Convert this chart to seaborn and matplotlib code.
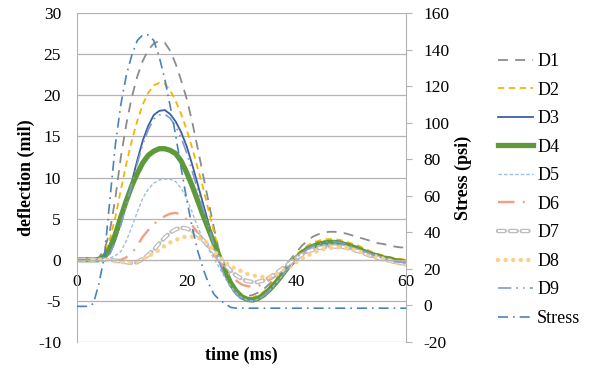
import matplotlib
matplotlib.use("Agg")
import matplotlib.pyplot as plt
import matplotlib.patheffects as pe
import seaborn as sns

# time axis (ms), sensor deflections (mil) and load stress (psi), read every 1 ms
time_ms = list(range(0, 61))

d1 = [0, 0, 0, 0, 0.3, 1.2, 3.5, 7.5, 12.5, 16.5,
      19.8, 22.3, 24.2, 25.5, 26.3, 26.6, 26.4, 25.4, 23.8, 21.8,
      19.6, 16.8, 13.6, 10.3, 7.0, 3.8, 0.8, -1.3, -2.9, -3.8,
      -4.2, -4.4, -4.3, -4.0, -3.6, -3.0, -2.3, -1.5, -0.7, 0.1,
      0.9, 1.7, 2.3, 2.8, 3.1, 3.3, 3.4, 3.4, 3.3, 3.2,
      3.0, 2.8, 2.6, 2.4, 2.2, 2.0, 1.9, 1.7, 1.6, 1.5, 1.5]
d2 = [0, 0, 0, 0, 0.1, 0.8, 2.5, 5.2, 8.5, 11.7,
      14.5, 16.9, 18.9, 20.3, 21.2, 21.5, 21.4, 20.6, 19.3, 17.7,
      15.8, 13.6, 11.2, 8.7, 6.0, 3.3, 0.8, -1.2, -2.8, -3.8,
      -4.4, -4.6, -4.6, -4.3, -3.9, -3.3, -2.6, -1.8, -0.9, -0.1,
      0.6, 1.2, 1.7, 2.1, 2.3, 2.5, 2.5, 2.5, 2.4, 2.2,
      2.0, 1.8, 1.5, 1.2, 0.9, 0.7, 0.5, 0.3, 0.2, 0.1, 0.0]
d3 = [0, 0, 0, 0, 0, 0.2, 0.8, 2.4, 4.5, 7.0,
      9.5, 12.1, 14.5, 16.3, 17.6, 18.1, 18.2, 17.7, 16.8, 15.5,
      13.8, 11.6, 9.2, 6.8, 4.4, 2.1, 0.0, -1.8, -3.2, -4.1,
      -4.6, -4.9, -4.9, -4.7, -4.3, -3.7, -3.0, -2.2, -1.3, -0.5,
      0.3, 0.9, 1.4, 1.8, 2.0, 2.2, 2.3, 2.3, 2.2, 2.0,
      1.8, 1.5, 1.2, 1.0, 0.7, 0.4, 0.2, 0.1, -0.1, -0.2, -0.3]
d4 = [0, 0, 0, 0, 0, 0.4, 1.4, 3.1, 5.2, 7.2,
      9.0, 10.5, 11.8, 12.7, 13.2, 13.5, 13.5, 13.3, 12.9, 12.0,
      10.6, 9.0, 7.2, 5.4, 3.7, 2.0, 0.3, -1.3, -2.8, -3.8,
      -4.5, -4.8, -4.9, -4.7, -4.3, -3.7, -3.0, -2.2, -1.3, -0.5,
      0.2, 0.8, 1.3, 1.6, 1.9, 2.0, 2.1, 2.1, 2.0, 1.8,
      1.6, 1.4, 1.1, 0.8, 0.6, 0.4, 0.2, 0.1, -0.1, -0.2, -0.3]
d5 = [0, 0, 0, 0, 0, 0, 0.2, 0.5, 1.0, 2.3,
      4.0, 5.8, 7.5, 8.6, 9.3, 9.7, 9.8, 9.8, 9.5, 8.7,
      7.4, 5.8, 4.0, 2.5, 1.3, 0.1, -1.0, -2.2, -3.2, -4.0,
      -4.6, -4.9, -5.0, -4.8, -4.4, -3.8, -3.1, -2.3, -1.5, -0.7,
      0.0, 0.6, 1.1, 1.5, 1.7, 1.8, 1.9, 1.9, 1.8, 1.7,
      1.5, 1.3, 1.0, 0.7, 0.5, 0.3, 0.1, 0.0, -0.2, -0.3, -0.4]
d6 = [0, 0, 0, 0, 0, 0, -0.1, -0.1, 0.0, 0.3,
      0.8, 1.7, 2.8, 3.6, 4.3, 4.9, 5.3, 5.6, 5.7, 5.5,
      4.9, 4.2, 3.3, 2.4, 1.5, 0.6, -0.3, -1.1, -1.9, -2.5,
      -3.0, -3.2, -3.3, -3.2, -2.9, -2.5, -2.1, -1.5, -0.9, -0.3,
      0.3, 0.7, 1.1, 1.3, 1.5, 1.6, 1.7, 1.7, 1.6, 1.5,
      1.3, 1.1, 0.9, 0.7, 0.5, 0.3, 0.1, 0.0, -0.2, -0.3, -0.4]
d7 = [0, 0, 0, 0, 0, 0, 0, -0.1, -0.2, -0.3,
      -0.4, -0.3, 0.1, 0.6, 1.2, 2.0, 2.7, 3.3, 3.7, 3.9,
      3.8, 3.5, 3.0, 2.4, 1.6, 0.9, 0.1, -0.6, -1.3, -1.9,
      -2.3, -2.6, -2.7, -2.7, -2.5, -2.2, -1.8, -1.3, -0.8, -0.3,
      0.2, 0.6, 1.0, 1.2, 1.4, 1.5, 1.6, 1.6, 1.6, 1.5,
      1.3, 1.1, 0.9, 0.6, 0.4, 0.2, 0.0, -0.1, -0.3, -0.4, -0.5]
d8 = [0, 0, 0, 0, 0, 0, -0.1, -0.2, -0.3, -0.3,
      -0.3, -0.2, 0.1, 0.4, 0.8, 1.2, 1.7, 2.1, 2.4, 2.7,
      2.8, 2.8, 2.7, 2.4, 1.9, 1.1, 0.3, -0.3, -0.8, -1.1,
      -1.4, -1.7, -1.9, -2.0, -2.1, -2.1, -1.9, -1.6, -1.2, -0.8,
      -0.3, 0.1, 0.5, 0.8, 1.1, 1.3, 1.4, 1.5, 1.5, 1.4,
      1.3, 1.1, 0.9, 0.7, 0.5, 0.3, 0.1, -0.1, -0.3, -0.5, -0.6]
d9 = [0, 0, 0, 0, 0, 0.2, 0.7, 2.2, 4.2, 6.7,
      9.2, 11.7, 14.0, 15.8, 17.1, 17.6, 17.7, 17.2, 16.2, 14.8,
      13.0, 10.8, 8.5, 6.2, 3.9, 1.7, -0.4, -2.1, -3.4, -4.2,
      -4.7, -5.0, -5.0, -4.8, -4.4, -3.8, -3.1, -2.3, -1.4, -0.6,
      0.2, 0.8, 1.3, 1.7, 1.9, 2.1, 2.2, 2.2, 2.1, 1.9,
      1.7, 1.4, 1.1, 0.9, 0.6, 0.4, 0.1, 0.0, -0.2, -0.3, -0.4]
stress = [-0.5, -0.5, -0.5, 1, 12, 27, 58, 88, 110, 126,
          137, 145, 148, 148, 145, 136, 124, 109, 93, 75,
          58, 43, 30, 20, 12, 6, 3, 1, -1, -1.5,
          -1.5, -1.5, -1.5, -1.5, -1.5, -1.5, -1.5, -1.5, -1.5, -1.5,
          -1.5, -1.5, -1.5, -1.5, -1.5, -1.5, -1.5, -1.5, -1.5, -1.5,
          -1.5, -1.5, -1.5, -1.5, -1.5, -1.5, -1.5, -1.5, -1.5, -1.5, -1.5]

series = {"D1": d1, "D2": d2, "D3": d3, "D4": d4, "D5": d5,
          "D6": d6, "D7": d7, "D8": d8, "D9": d9}

styles = {
    "D1": dict(color="#8c8c8c", lw=1.3, linestyle=(0, (5.5, 4))),
    "D2": dict(color="#f2b600", lw=1.3, linestyle=(0, (3.5, 2.5))),
    "D3": dict(color="#3c5fa5", lw=1.3, linestyle="-"),
    "D4": dict(color="#5e9a3c", lw=3.8, linestyle="-"),
    "D5": dict(color="#9dbfe3", lw=1.0, linestyle=(0, (2.5, 1.5))),
    "D6": dict(color="#f2a084", lw=1.7, linestyle=(0, (7, 3.5, 0.8, 3.5))),
    "D7": dict(color="white", lw=1.4, linestyle=(0, (3.5, 2.6)),
               path_effects=[pe.Stroke(linewidth=3.2, foreground="#bdbdbd", capstyle="round"),
                             pe.Normal()]),
    "D8": dict(color="#fbd08a", lw=3.2, linestyle=(0, (0.01, 1.7)), dash_capstyle="round"),
    "D9": dict(color="#7f9bd3", lw=1.2, linestyle=(0, (8, 3, 1, 3, 1, 3))),
}
stress_style = dict(color="#4a82c0", lw=1.2, linestyle=(0, (6, 3, 1, 3)))

plt.rcParams["font.family"] = ["Liberation Serif", "DejaVu Serif"]
plt.rcParams["axes.unicode_minus"] = False
grid_c = "#b3b3b3"

fig = plt.figure(figsize=(5.9, 3.75), dpi=100)
ax = fig.add_axes([77 / 590, 33 / 375, 329 / 590, 329 / 375])
ax2 = ax.twinx()

for name, vals in series.items():
    sns.lineplot(x=time_ms, y=vals, ax=ax, label=name, legend=False, **styles[name])
sns.lineplot(x=time_ms, y=stress, ax=ax2, label="Stress", legend=False, **stress_style)

ax.set_xlim(0, 60)
ax.set_ylim(-10, 30)
ax.set_yticks(range(-10, 31, 5))
ax.set_xticks([0, 20, 40, 60])
ax2.set_ylim(-20, 160)
ax2.set_yticks(range(-20, 161, 20))

ax.yaxis.grid(True, color=grid_c, lw=0.9)
ax.set_axisbelow(True)

ax.spines["top"].set_visible(False)
ax.spines["right"].set_visible(False)
ax.spines["left"].set_color(grid_c)
ax.spines["bottom"].set_position(("data", 0))
ax.spines["bottom"].set_color(grid_c)
for s in ["top", "left", "bottom"]:
    ax2.spines[s].set_visible(False)
ax2.spines["right"].set_color(grid_c)

ax.tick_params(axis="y", length=0, pad=11.5, labelsize=12.5)
ax.tick_params(axis="x", length=0, pad=10, labelsize=12.5)
ax2.tick_params(axis="y", length=4, color=grid_c, pad=8.5, labelsize=12.5)

ax.set_xlabel("time (ms)", fontsize=13, fontweight="bold")
ax.xaxis.set_label_coords(0.5, -0.015)
ax.set_ylabel("deflection (mil)", fontsize=13, fontweight="bold")
ax.yaxis.set_label_coords(-0.128, 0.5)
ax2.set_ylabel("Stress (psi)", fontsize=13, fontweight="bold")
ax2.yaxis.set_label_coords(1.147, 0.5)

h1, l1 = ax.get_legend_handles_labels()
h2, l2 = ax2.get_legend_handles_labels()
fig.legend(h1 + h2, l1 + l2, loc="upper left", bbox_to_anchor=(498 / 590, 1 - 53 / 375),
           frameon=False, fontsize=13, handlelength=1.95, handletextpad=0.22,
           labelspacing=0.64, borderpad=0, borderaxespad=0)

fig.savefig("out.png", dpi=100)
